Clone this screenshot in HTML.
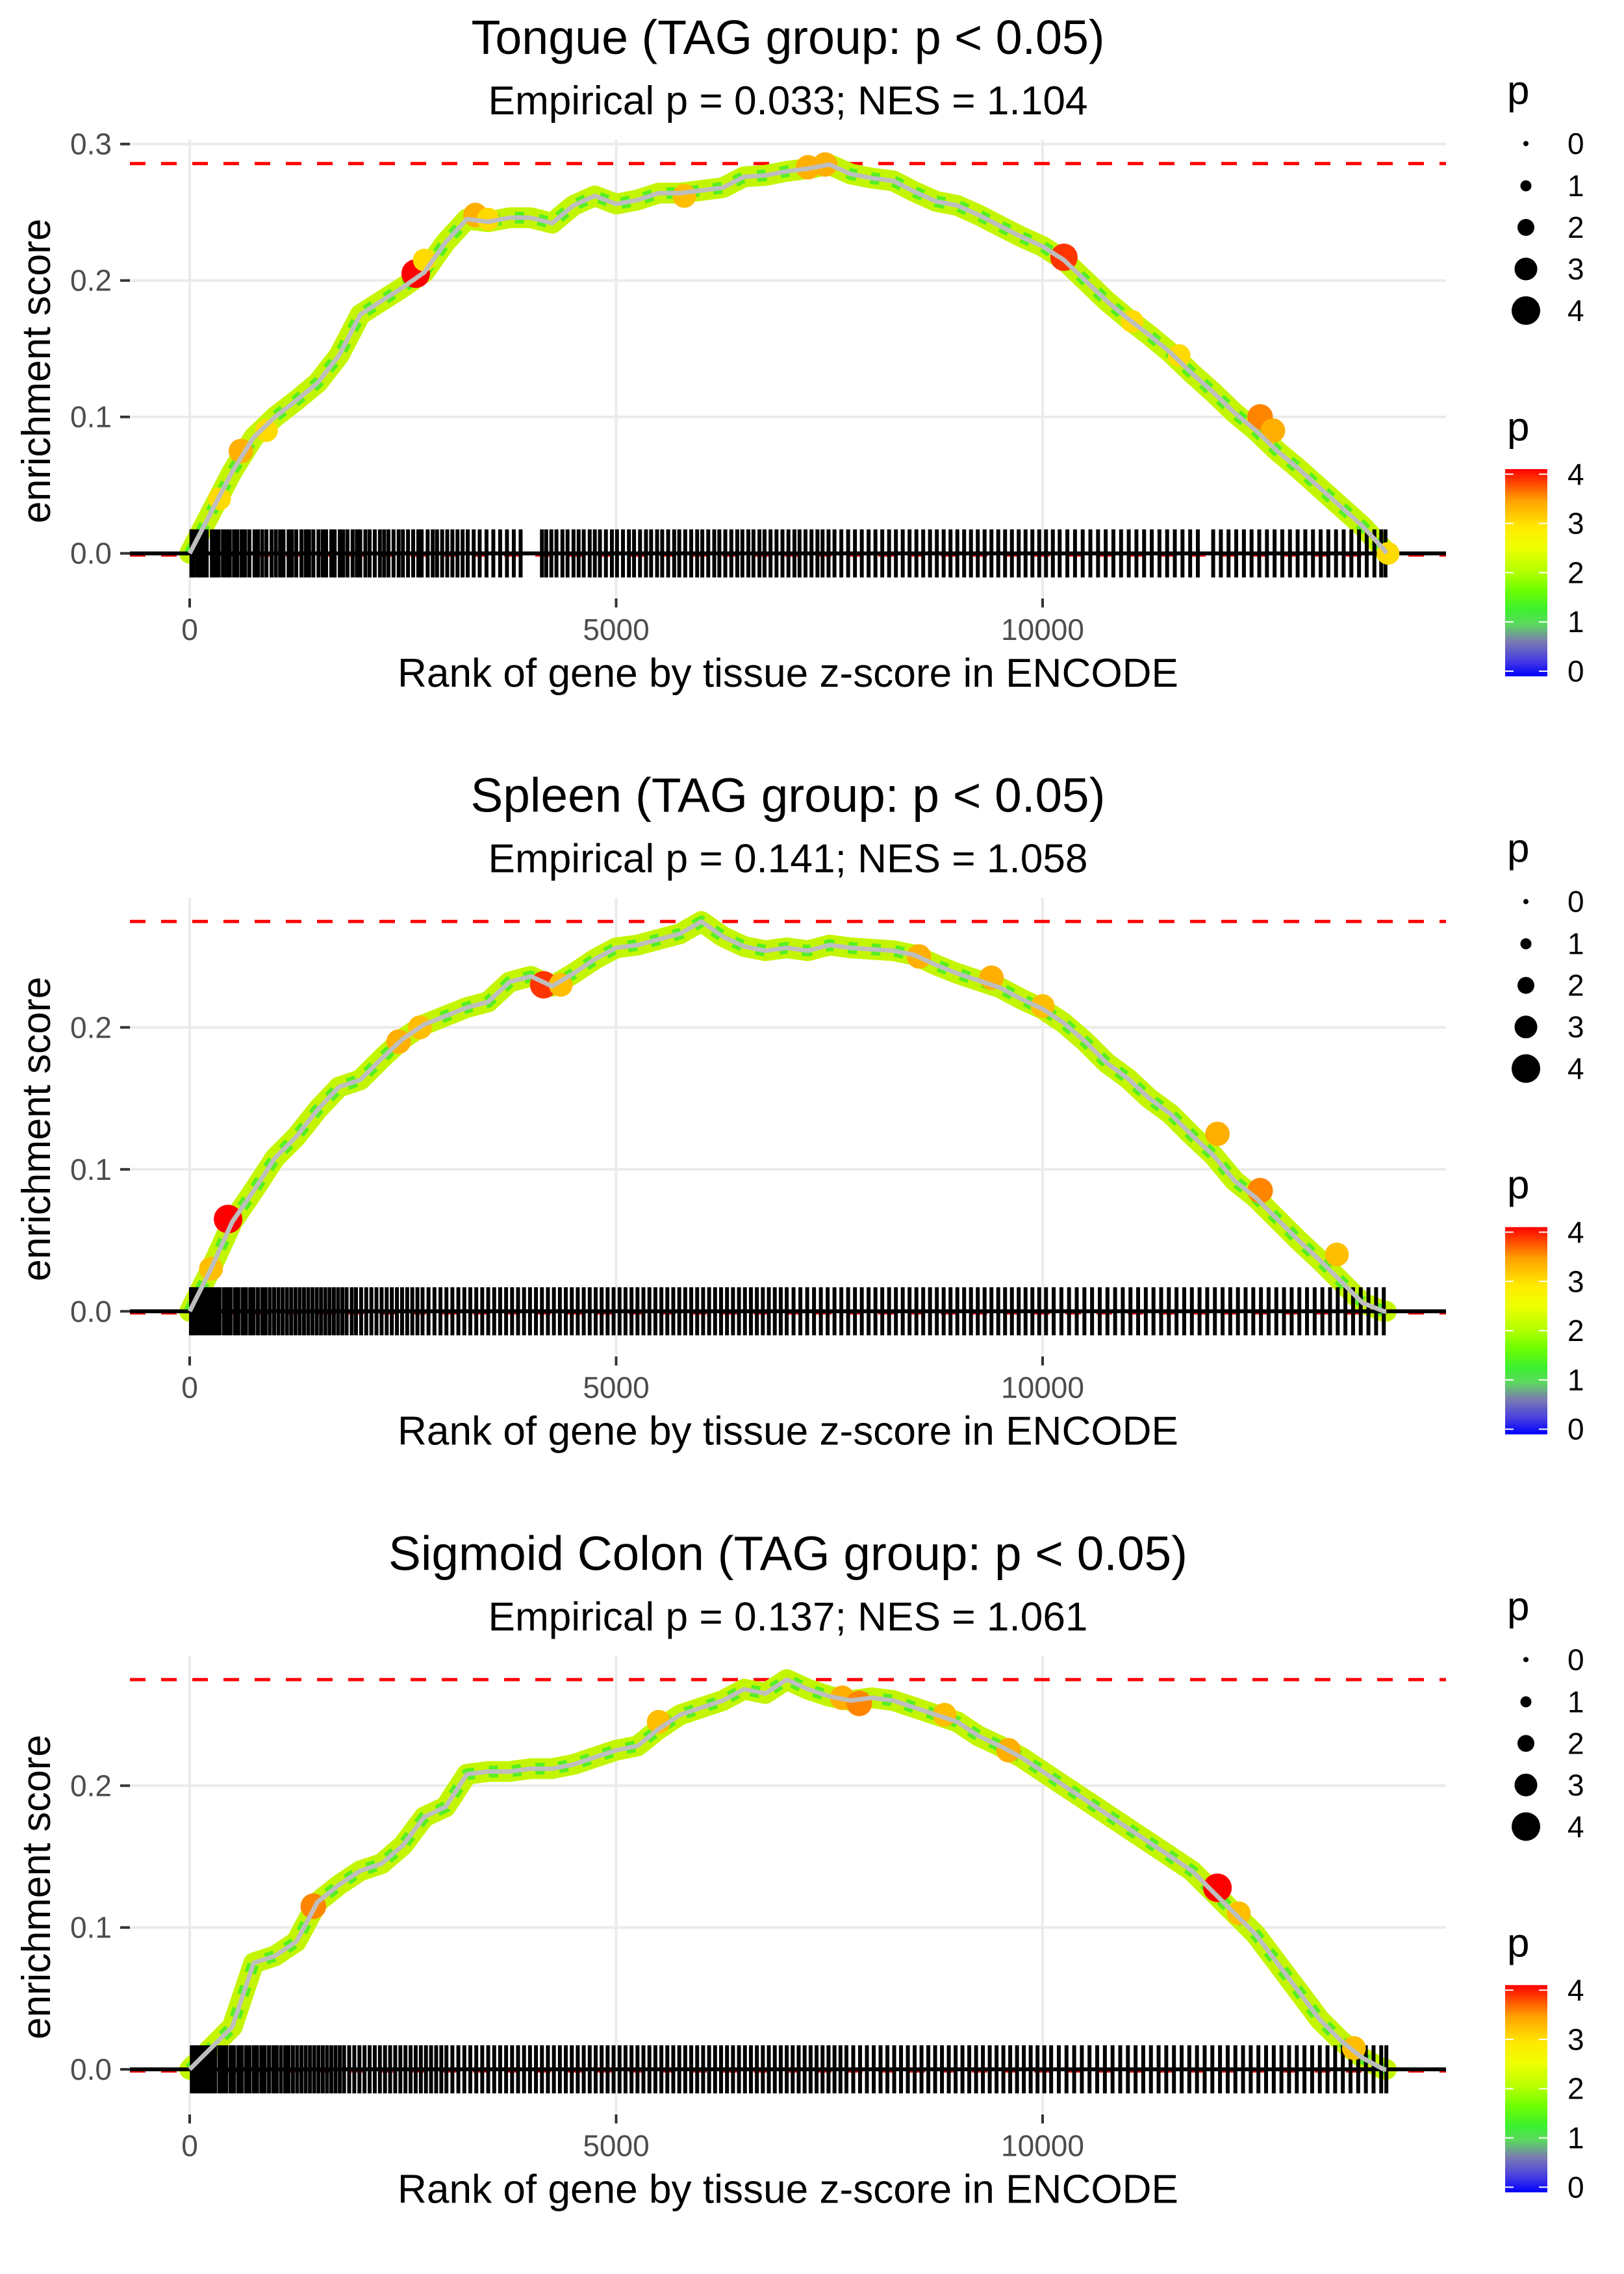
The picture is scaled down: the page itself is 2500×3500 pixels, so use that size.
<!DOCTYPE html>
<html>
<head>
<meta charset="utf-8">
<style>
  html,body{margin:0;padding:0;background:#fff;}
  svg{display:block;font-family:"Liberation Sans",Arial,sans-serif;}
</style>
</head>
<body>
<svg id="chart" width="2500" height="3500" viewBox="0 0 2500 3500" xmlns="http://www.w3.org/2000/svg">
  <defs>
    <linearGradient id="pgrad" x1="0" y1="1" x2="0" y2="0">
      <stop offset="0" stop-color="#0000ff"/>
      <stop offset="0.08" stop-color="#4a40e0"/>
      <stop offset="0.17" stop-color="#7a7cb0"/>
      <stop offset="0.25" stop-color="#5cd860"/>
      <stop offset="0.32" stop-color="#3cf030"/>
      <stop offset="0.42" stop-color="#70ff00"/>
      <stop offset="0.5" stop-color="#b0ff00"/>
      <stop offset="0.62" stop-color="#eeff00"/>
      <stop offset="0.72" stop-color="#ffea00"/>
      <stop offset="0.85" stop-color="#ffa000"/>
      <stop offset="1" stop-color="#ff0000"/>
    </linearGradient>
  </defs>
  <g id="root"></g>
</svg>
<script>
// ---- shared x sampling of the running enrichment score ----
const ranks = [0,250,500,750,1000,1250,1500,1750,2000,2250,2500,2750,3000,3250,3500,3750,4000,4250,4500,4750,5000,5250,5500,5750,6000,6250,6500,6750,7000,7250,7500,7750,8000,8250,8500,8750,9000,9250,9500,9750,10000,10250,10500,10750,11000,11250,11500,11750,12000,12250,12500,12750,13000,13250,13500,13750,14000,14030];

// ---- panel 1: Tongue ----
const esTongue = [0,.03,.06,.085,.10,.112,.125,.145,.175,.185,.195,.206,.228,.245,.243,.246,.246,.242,.255,.262,.256,.259,.264,.264,.266,.268,.276,.277,.28,.282,.285,.278,.275,.273,.265,.258,.255,.248,.24,.232,.225,.215,.2,.185,.172,.16,.147,.132,.118,.103,.09,.075,.062,.048,.034,.02,.003,0];
const maxTongue = 0.2857;
const hlTongueRank = [350,600,900,2650,2750,3350,3500,5800,7250,7450,10250,11050,11600,12550,12700,14050];
const hlTongueES   = [.04,.075,.09,.205,.215,.248,.245,.262,.283,.285,.217,.17,.145,.1,.09,0];
const hlTongueP    = [3,3.3,3,4,3,3.3,3,3.2,3.3,3.3,3.8,3,3,3.5,3.3,3];
const hitsTongue = [20,45,90,130,170,200,260,300,340,390,430,470,520,560,610,650,700,760,800,850,900,960,1010,1060,1100,1160,1200,1250,1310,1360,1400,1450,1510,1560,1600,1660,1700,1760,1800,1850,1910,1960,2000,2060,2110,2170,2230,2280,2330,2390,2450,2500,2560,2620,2680,2720,2790,2850,2900,2960,3020,3080,3140,3200,3260,3330,3400,3480,3560,3640,3720,3800,3880,4130,4180,4240,4300,4370,4430,4500,4560,4620,4690,4750,4810,4880,4950,5010,5080,5150,5210,5280,5350,5410,5480,5540,5610,5680,5740,5810,5880,5950,6010,6080,6150,6210,6280,6350,6420,6480,6550,6610,6680,6740,6810,6880,6950,7020,7090,7150,7220,7290,7360,7420,7490,7560,7640,7720,7800,7880,7960,8040,8120,8200,8280,8360,8440,8520,8600,8680,8760,8840,8920,9000,9080,9160,9240,9320,9400,9480,9560,9640,9720,9800,9880,9960,10040,10120,10200,10290,10380,10470,10560,10650,10740,10830,10920,11010,11100,11190,11280,11370,11460,11550,11640,11730,11820,12000,12090,12180,12270,12360,12450,12540,12630,12720,12810,12900,12990,13080,13170,13260,13350,13440,13530,13620,13710,13800,13890,13970,14020];

// ---- panel 2: Spleen ----
const esSpleen = [0,.03,.063,.085,.108,.123,.142,.158,.163,.178,.192,.202,.208,.214,.218,.232,.236,.229,.238,.248,.256,.258,.262,.266,.2746,.264,.257,.254,.256,.254,.258,.256,.255,.254,.251,.244,.238,.233,.228,.22,.213,.203,.19,.175,.164,.15,.139,.124,.11,.092,.08,.065,.05,.036,.021,.006,0,0];
const maxSpleen = 0.2746;
const hlSpleenRank = [250,450,2450,2700,4150,4350,8550,9400,10000,12050,12550,13450];
const hlSpleenES   = [.03,.065,.19,.2,.23,.23,.25,.235,.215,.125,.085,.04];
const hlSpleenP    = [3.2,4,3.3,3.2,3.8,3.2,3.3,3.3,3.2,3.3,3.5,3.2];
const hitsSpleen = [15,40,70,110,150,190,230,270,310,350,400,440,480,530,570,620,660,710,750,800,850,890,940,990,1040,1090,1140,1190,1240,1290,1340,1390,1440,1490,1540,1590,1640,1690,1740,1790,1840,1900,1950,2010,2070,2130,2190,2250,2310,2370,2430,2490,2550,2610,2670,2730,2800,2870,2940,3010,3080,3150,3220,3290,3360,3430,3500,3570,3640,3710,3780,3850,3920,3990,4060,4130,4200,4270,4340,4410,4480,4550,4620,4690,4760,4830,4900,4970,5040,5110,5180,5250,5320,5390,5460,5530,5600,5670,5740,5810,5880,5950,6020,6090,6160,6230,6300,6370,6440,6510,6580,6650,6720,6790,6860,6930,7000,7080,7160,7240,7320,7400,7480,7560,7640,7720,7800,7880,7960,8040,8120,8200,8280,8360,8440,8520,8600,8680,8760,8840,8920,9000,9080,9160,9240,9320,9400,9480,9560,9640,9720,9800,9880,9960,10040,10130,10220,10310,10400,10490,10580,10670,10760,10850,10940,11030,11120,11210,11300,11390,11480,11570,11660,11750,11840,11930,12020,12110,12200,12290,12380,12470,12560,12650,12740,12830,12920,13010,13100,13190,13280,13370,13460,13550,13640,13730,13820,13910,14000];

// ---- panel 3: Sigmoid Colon ----
const esColon = [0,.015,.03,.075,.08,.09,.118,.13,.14,.145,.158,.178,.185,.208,.21,.21,.212,.212,.215,.22,.225,.228,.24,.25,.255,.26,.268,.265,.2748,.268,.263,.26,.262,.26,.255,.25,.245,.235,.228,.22,.21,.2,.19,.18,.17,.16,.15,.14,.125,.11,.095,.075,.055,.035,.02,.008,0,0];
const maxColon = 0.2748;
const hlColonRank = [1450,5500,7650,7850,8850,9600,12050,12300,13650];
const hlColonES   = [.115,.245,.262,.258,.25,.225,.128,.11,.015];
const hlColonP    = [3.5,3.2,3.3,3.5,3.2,3.3,4,3.2,3.2];
const hitsColon = [25,60,100,140,180,220,260,300,350,390,430,480,520,570,610,660,700,750,790,840,880,930,980,1020,1070,1120,1160,1210,1260,1310,1360,1410,1460,1510,1560,1610,1660,1710,1760,1810,1870,1930,1990,2050,2110,2170,2230,2290,2350,2410,2470,2530,2590,2650,2710,2770,2830,2890,2950,3010,3080,3150,3220,3290,3360,3430,3500,3570,3640,3710,3780,3850,3920,3990,4060,4130,4200,4270,4340,4410,4480,4550,4620,4690,4760,4830,4900,4970,5040,5110,5180,5250,5320,5390,5460,5530,5600,5670,5740,5810,5880,5950,6020,6090,6160,6230,6300,6370,6440,6510,6580,6650,6720,6790,6860,6930,7000,7070,7140,7210,7280,7350,7420,7490,7560,7630,7700,7780,7860,7940,8020,8100,8180,8260,8340,8420,8500,8580,8660,8740,8820,8900,8980,9060,9140,9220,9300,9380,9460,9540,9620,9700,9780,9860,9940,10020,10100,10190,10280,10370,10460,10550,10640,10730,10820,10910,11000,11090,11180,11270,11360,11450,11540,11630,11720,11810,11900,11990,12080,12170,12260,12350,12440,12530,12620,12710,12800,12890,12980,13070,13160,13250,13340,13430,13520,13610,13700,13790,13880,13970,14030];

// ---- axis tick labels ----
const xTicks = [0,5000,10000];
const xTickLabels = ["0","5000","10000"];
const yTicksP1 = [0,0.1,0.2,0.3];
const yTicksP23 = [0,0.1,0.2];
const yTickLabels = ["0.0","0.1","0.2","0.3"];
const legendValues = [0,1,2,3,4];

const NS = "http://www.w3.org/2000/svg";
const root = document.getElementById("root");
function mk(tag, attrs, parent){
  const e = document.createElementNS(NS, tag);
  for (const k in attrs) e.setAttribute(k, attrs[k]);
  (parent||root).appendChild(e);
  return e;
}
const stops = [[0,[0,0,255]],[0.33,[74,64,224]],[0.67,[122,124,176]],[1,[92,216,96]],[1.3,[60,240,48]],[1.7,[112,255,0]],[2,[176,255,0]],[2.5,[238,255,0]],[2.9,[255,234,0]],[3.4,[255,160,0]],[4,[255,0,0]]];
function pColor(p){
  for (let i=1;i<stops.length;i++){
    if (p<=stops[i][0]){
      const a=stops[i-1], b=stops[i], t=(p-a[0])/(b[0]-a[0]);
      const c=a[1].map((v,j)=>Math.round(v+(b[1][j]-v)*t));
      return "rgb("+c.join(",")+")";
    }
  }
  return "rgb(255,0,0)";
}
function pRadius(p){ return 4 + 4.5*p; }

const X0 = 292, XK = 0.1313;
function xScale(r){ return X0 + r*XK; }

const panels = [
  {key:"tongue", title:"Tongue (TAG group: p < 0.05)", tlen:975, sub:"Empirical p = 0.033; NES = 1.104",
   off:0, zero:851.7, unit:2100, es:esTongue, max:maxTongue, hits:hitsTongue,
   hlR:hlTongueRank, hlE:hlTongueES, hlP:hlTongueP, yt:yTicksP1},
  {key:"spleen", title:"Spleen (TAG group: p < 0.05)", tlen:977, sub:"Empirical p = 0.141; NES = 1.058",
   off:1166.67, zero:2018.3, unit:2185, es:esSpleen, max:maxSpleen, hits:hitsSpleen,
   hlR:hlSpleenRank, hlE:hlSpleenES, hlP:hlSpleenP, yt:yTicksP23},
  {key:"sigmoid-colon", title:"Sigmoid Colon (TAG group: p < 0.05)", tlen:1230, sub:"Empirical p = 0.137; NES = 1.061",
   off:2333.33, zero:3185, unit:2183, es:esColon, max:maxColon, hits:hitsColon,
   hlR:hlColonRank, hlE:hlColonES, hlP:hlColonP, yt:yTicksP23}
];

panels.forEach(P=>{
  const g = mk("g",{});
  
  
  const yS = v => P.zero - v*P.unit;
  const pTop = 215 + P.off, pBot = 919 + P.off, pL = 200, pR = 2226;

  const t = mk("text",{x:1213,y:83+P.off,"text-anchor":"middle","font-size":74,fill:"#000",textLength:P.tlen,lengthAdjust:"spacingAndGlyphs"},g);
  t.textContent = P.title;
  
  
  const s = mk("text",{x:1213,y:176+P.off,"text-anchor":"middle","font-size":62,fill:"#000",textLength:923,lengthAdjust:"spacingAndGlyphs"},g);
  s.textContent = P.sub;
  
  

  P.yt.forEach((v,i)=>{
    const gl = mk("line",{x1:pL,x2:pR,y1:yS(v),y2:yS(v),stroke:"#ebebeb","stroke-width":4},g);
    
    
    const tk = mk("line",{x1:185,x2:200,y1:yS(v),y2:yS(v),stroke:"#333","stroke-width":4},g);
    
    
    const lb = mk("text",{x:172,y:yS(v)+16,"text-anchor":"end","font-size":46,fill:"#4d4d4d"},g);
    lb.textContent = yTickLabels[i];
    
    
  });
  xTicks.forEach((r,i)=>{
    const gl = mk("line",{x1:xScale(r),x2:xScale(r),y1:pTop,y2:pBot,stroke:"#ebebeb","stroke-width":4},g);
    
    
    const tk = mk("line",{x1:xScale(r),x2:xScale(r),y1:921+P.off,y2:935+P.off,stroke:"#333","stroke-width":4},g);
    
    
    const lb = mk("text",{x:xScale(r),y:985+P.off,"text-anchor":"middle","font-size":46,fill:"#4d4d4d"},g);
    lb.textContent = xTickLabels[i];
    
    
  });

  const md = mk("line",{x1:pL,x2:pR,y1:yS(P.max),y2:yS(P.max),stroke:"#ff0000","stroke-width":5,"stroke-dasharray":"24 24"},g);
  
  
  const zd = mk("line",{x1:pL,x2:pR,y1:yS(0)+3,y2:yS(0)+3,stroke:"#ff0000","stroke-width":4,"stroke-dasharray":"24 24"},g);
  
  

  const pts = P.es.map((v,i)=>xScale(ranks[i]).toFixed(1)+","+yS(v).toFixed(1)).join(" ");
  const b1 = mk("polyline",{points:pts,fill:"none",stroke:"#c4f500","stroke-width":32,"stroke-linejoin":"round","stroke-linecap":"round"},g);
  
  
  const b2 = mk("polyline",{points:pts,fill:"none",stroke:"#55f020","stroke-width":18,"stroke-dasharray":"14 22","stroke-linejoin":"round"},g);
  
  

  P.hits.forEach(r=>{
    const h = mk("line",{x1:xScale(r),x2:xScale(r),y1:yS(0)-37,y2:yS(0)+37,stroke:"#000","stroke-width":6},g);
    
    
  });
  const zl = mk("line",{x1:pL,x2:pR,y1:yS(0),y2:yS(0),stroke:"#000","stroke-width":6},g);
  
  

  P.hlR.forEach((r,i)=>{
    const c = mk("circle",{cx:xScale(r),cy:yS(P.hlE[i]),r:pRadius(P.hlP[i]),fill:pColor(P.hlP[i])},g);
    
    
  });
  const gl = mk("polyline",{points:pts,fill:"none",stroke:"#bebebe","stroke-width":7,"stroke-linejoin":"round"},g);
  
  

  const xt = mk("text",{x:1213,y:1057+P.off,"text-anchor":"middle","font-size":62,fill:"#000",textLength:1202,lengthAdjust:"spacingAndGlyphs"},g);
  xt.textContent = "Rank of gene by tissue z-score in ENCODE";
  
  
  const yt = mk("text",{x:0,y:0,"text-anchor":"middle","font-size":62,fill:"#000",textLength:469,lengthAdjust:"spacingAndGlyphs",transform:"translate(77,"+(571+P.off)+") rotate(-90)"},g);
  yt.textContent = "enrichment score";
  
  

  const sl = mk("g",{},g);
  
  
  const st = mk("text",{x:2320,y:160+P.off,"font-size":62,fill:"#000"},sl);
  st.textContent = "p";
  
  
  const sy = [221,286,350,414,478];
  legendValues.forEach((v,i)=>{
    const d = mk("circle",{cx:2349,cy:sy[i]+P.off,r:pRadius(v),fill:"#000"},sl);
    
    
    const l = mk("text",{x:2413,y:sy[i]+P.off+16,"font-size":46,fill:"#000"},sl);
    l.textContent = String(v);
    
    
  });

  const cl = mk("g",{},g);
  
  
  const ct = mk("text",{x:2320,y:678+P.off,"font-size":62,fill:"#000"},cl);
  ct.textContent = "p";
  
  
  const bar = mk("rect",{x:2317,y:722+P.off,width:65,height:319,fill:"url(#pgrad)"},cl);
  
  
  legendValues.forEach(v=>{
    const yy = 1033 + P.off - v*75.8;
    const a = mk("line",{x1:2317,x2:2330,y1:yy,y2:yy,stroke:"#fff","stroke-width":2},cl);
    
    
    const b = mk("line",{x1:2369,x2:2382,y1:yy,y2:yy,stroke:"#fff","stroke-width":2},cl);
    
    
    const l = mk("text",{x:2413,y:yy+16,"font-size":46,fill:"#000"},cl);
    l.textContent = String(v);
    
    
  });
});
</script>
</body>
</html>
